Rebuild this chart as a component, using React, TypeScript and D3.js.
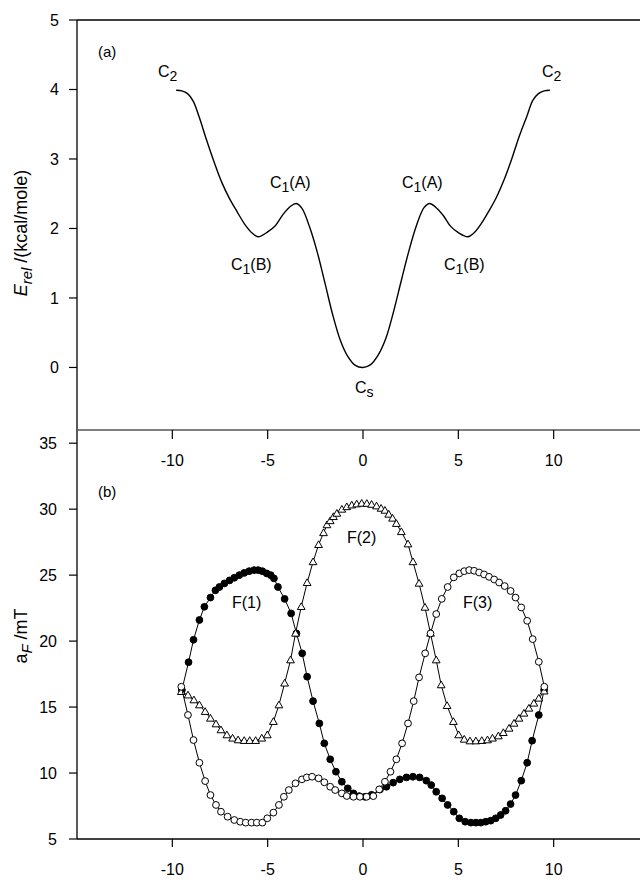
import * as d3 from "d3";

// (a) relative energy along the coordinate
const energyX = [-9.8, -9.5, -9.2, -8.9, -8.6, -8.2, -7.8, -7.4, -7.0, -6.6, -6.2, -5.8, -5.5, -5.0, -4.6, -4.2, -3.8, -3.5, -3.2, -2.8, -2.4, -2.0, -1.6, -1.2, -0.8, -0.4, 0, 0.4, 0.8, 1.2, 1.6, 2.0, 2.4, 2.8, 3.2, 3.5, 3.8, 4.2, 4.6, 5.0, 5.5, 5.8, 6.2, 6.6, 7.0, 7.4, 7.8, 8.2, 8.6, 8.9, 9.2, 9.5, 9.8];
const energyY = [3.99, 3.98, 3.94, 3.83, 3.61, 3.27, 2.95, 2.66, 2.43, 2.24, 2.06, 1.93, 1.88, 1.95, 2.04, 2.2, 2.32, 2.36, 2.29, 2.02, 1.66, 1.22, 0.77, 0.4, 0.16, 0.03, 0.0, 0.04, 0.18, 0.42, 0.8, 1.24, 1.67, 2.04, 2.3, 2.36, 2.31, 2.19, 2.03, 1.94, 1.88, 1.93, 2.07, 2.25, 2.45, 2.7, 3.0, 3.33, 3.62, 3.84, 3.94, 3.98, 3.99];

// (b) fluorine hyperfine couplings
const f1X = [-9.5, -9.15, -8.89, -8.58, -8.32, -8.0, -7.74, -7.53, -7.27, -7.0, -6.75, -6.49, -6.23, -5.97, -5.71, -5.5, -5.28, -5.05, -4.84, -4.67, -4.46, -4.11, -3.77, -3.49, -3.19, -2.93, -2.62, -2.29, -2.03, -1.72, -1.42, -1.11, -0.8, -0.5, -0.2, 0.1, 0.45, 0.89, 1.23, 1.58, 1.93, 2.28, 2.62, 2.97, 3.32, 3.58, 3.84, 4.15, 4.44, 4.76, 5.05, 5.36, 5.66, 5.92, 6.18, 6.44, 6.7, 6.96, 7.22, 7.48, 7.74, 8.0, 8.3, 8.61, 8.87, 9.22, 9.5];
const f1Y = [16.3, 18.4, 20.1, 21.6, 22.6, 23.3, 23.85, 24.1, 24.37, 24.6, 24.8, 25.0, 25.17, 25.3, 25.38, 25.38, 25.3, 25.13, 25.0, 24.75, 24.1, 23.2, 22.1, 20.58, 19.07, 17.3, 15.45, 13.76, 12.25, 11.04, 10.1, 9.34, 8.84, 8.46, 8.25, 8.2, 8.35, 8.75, 8.96, 9.27, 9.52, 9.67, 9.72, 9.67, 9.42, 9.09, 8.58, 8.08, 7.58, 7.07, 6.57, 6.31, 6.24, 6.24, 6.24, 6.31, 6.39, 6.57, 6.82, 7.14, 7.65, 8.33, 9.42, 10.78, 12.45, 14.4, 16.3];

const f2X = [-9.53, -9.18, -8.87, -8.58, -8.28, -8.0, -7.71, -7.45, -7.14, -6.84, -6.55, -6.23, -5.94, -5.63, -5.31, -5.02, -4.7, -4.41, -4.11, -3.8, -3.54, -3.24, -2.93, -2.62, -2.33, -2.07, -1.89, -1.72, -1.55, -1.37, -1.11, -0.85, -0.59, -0.33, -0.07, 0.2, 0.45, 0.71, 0.95, 1.15, 1.35, 1.55, 1.75, 2.01, 2.36, 2.62, 2.94, 3.25, 3.54, 3.84, 4.1, 4.41, 4.74, 5.02, 5.31, 5.61, 5.92, 6.23, 6.53, 6.79, 7.1, 7.36, 7.66, 7.92, 8.18, 8.44, 8.7, 8.96, 9.22, 9.5];
const f2Y = [16.16, 15.9, 15.53, 15.15, 14.65, 14.14, 13.71, 13.26, 12.88, 12.63, 12.5, 12.45, 12.45, 12.45, 12.63, 12.88, 13.89, 15.15, 16.8, 18.56, 20.58, 22.6, 24.42, 26.0, 27.3, 28.2, 28.8, 29.11, 29.42, 29.67, 29.98, 30.17, 30.3, 30.38, 30.43, 30.42, 30.35, 30.23, 30.05, 29.9, 29.6, 29.3, 28.9, 28.28, 27.35, 26.0, 24.37, 22.55, 20.58, 18.56, 16.67, 15.1, 13.89, 12.88, 12.55, 12.42, 12.42, 12.45, 12.5, 12.63, 12.8, 13.05, 13.38, 13.76, 14.14, 14.52, 14.9, 15.28, 15.66, 16.2];

const f3X = [-9.53, -9.18, -8.89, -8.58, -8.28, -8.0, -7.71, -7.45, -7.1, -6.75, -6.44, -6.15, -5.85, -5.57, -5.28, -5.02, -4.7, -4.41, -4.15, -3.89, -3.54, -3.2, -2.95, -2.67, -2.33, -2.03, -1.72, -1.46, -1.11, -0.85, -0.5, -0.16, 0.19, 0.54, 0.85, 1.15, 1.44, 1.75, 2.05, 2.36, 2.66, 2.94, 3.26, 3.54, 3.84, 4.13, 4.44, 4.76, 5.05, 5.31, 5.57, 5.83, 6.09, 6.35, 6.61, 6.88, 7.14, 7.43, 7.74, 8.0, 8.3, 8.61, 8.9, 9.22, 9.51];
const f3Y = [16.54, 14.4, 12.5, 10.78, 9.39, 8.33, 7.58, 7.07, 6.69, 6.44, 6.31, 6.24, 6.24, 6.24, 6.24, 6.57, 7.0, 7.58, 8.2, 8.71, 9.22, 9.52, 9.67, 9.72, 9.6, 9.3, 8.96, 8.71, 8.46, 8.26, 8.2, 8.2, 8.2, 8.25, 8.76, 9.34, 10.1, 11.04, 12.25, 13.76, 15.45, 17.25, 19.07, 20.58, 22.05, 23.2, 24.1, 24.83, 25.13, 25.3, 25.38, 25.33, 25.2, 25.05, 24.87, 24.67, 24.44, 24.17, 23.8, 23.3, 22.55, 21.54, 20.15, 18.43, 16.54];

const xTicks = [-10, -5, 0, 5, 10];
const energyTicks = [0, 1, 2, 3, 4, 5];
const hfTicks = [5, 10, 15, 20, 25, 30, 35];

const W = 640;
const H = 880;
const FONT = "Liberation Sans, Arial, Helvetica, sans-serif";

const x = d3.scaleLinear().domain([-15, 15]).range([77, 649]);
const yTop = d3.scaleLinear().domain([-0.9, 5]).range([430, 20]);
const yBot = d3.scaleLinear().domain([5, 36]).range([839, 430]);

const zip = (xs: number[], ys: number[]) => xs.map((v, i) => [v, ys[i]] as [number, number]);

const energyLine = d3
  .line<[number, number]>()
  .x((d) => x(d[0]))
  .y((d) => yTop(d[1]))
  .curve(d3.curveCatmullRom.alpha(0.5));

const hfLine = d3
  .line<[number, number]>()
  .x((d) => x(d[0]))
  .y((d) => yBot(d[1]));

const tri = d3.symbol().type(d3.symbolTriangle).size(26)();

function Series({ pts, kind }: { pts: [number, number][]; kind: string }) {
  return (
    <g>
      <path d={hfLine(pts) || ""} fill="none" stroke="#000" strokeWidth={1} />
      {pts.map((p, i) =>
        kind === "tri" ? (
          <path
            key={i}
            d={tri || ""}
            transform={`translate(${x(p[0])},${yBot(p[1]) + 0.5})`}
            fill="#fff"
            stroke="#000"
            strokeWidth={1}
          />
        ) : (
          <circle
            key={i}
            cx={x(p[0])}
            cy={yBot(p[1])}
            r={3.4}
            fill={kind === "filled" ? "#000" : "#fff"}
            stroke="#000"
            strokeWidth={1}
          />
        )
      )}
    </g>
  );
}

// state labels like C2, C1(A), Cs
function Lbl({ x0, y0, main, sub, rest }: { x0: number; y0: number; main: string; sub: string; rest?: string }) {
  return (
    <text x={x0} y={y0} fontSize={16}>
      {main}
      <tspan dy={4} fontSize={14}>{sub}</tspan>
      {rest ? <tspan dy={-4} fontSize={16}>{rest}</tspan> : null}
    </text>
  );
}

export default function App() {
  const left = 77;
  return (
    <div style={{ position: "absolute", left: 0, top: 0 }}>
      <svg width={W} height={H} style={{ display: "block", background: "#fff" }} fontFamily={FONT}>
        {/* panel (a) */}
        <line x1={left} x2={W} y1={20} y2={20} stroke="#000" strokeWidth={1.3} />
        <line x1={left} x2={left} y1={20} y2={839} stroke="#000" strokeWidth={1.3} />
        {energyTicks.map((t) => (
          <g key={t}>
            <line x1={left - 8} x2={left} y1={yTop(t)} y2={yTop(t)} stroke="#000" strokeWidth={1.2} />
            <text x={left - 18} y={yTop(t)} dy="0.36em" textAnchor="end" fontSize={16}>{t}</text>
          </g>
        ))}
        <line x1={left} x2={W} y1={430} y2={430} stroke="#555" strokeWidth={1.5} />
        {xTicks.map((t) => (
          <g key={t}>
            <line x1={x(t)} x2={x(t)} y1={430} y2={439} stroke="#000" strokeWidth={1.2} />
            <text x={x(t)} y={466} textAnchor="middle" fontSize={16}>{t}</text>
          </g>
        ))}
        <path d={energyLine(zip(energyX, energyY)) || ""} fill="none" stroke="#000" strokeWidth={1.4} />
        <text x={98} y={57} fontSize={15}>(a)</text>
        <Lbl x0={158} y0={77} main="C" sub="2" />
        <Lbl x0={270} y0={188} main="C" sub="1" rest="(A)" />
        <Lbl x0={231} y0={270} main="C" sub="1" rest="(B)" />
        <Lbl x0={402} y0={188} main="C" sub="1" rest="(A)" />
        <Lbl x0={444} y0={270} main="C" sub="1" rest="(B)" />
        <Lbl x0={542} y0={77} main="C" sub="2" />
        <Lbl x0={355} y0={393} main="C" sub="s" />
        <text transform="translate(27,233) rotate(-90)" textAnchor="middle" fontSize={18}>
          <tspan fontStyle="italic">E</tspan>
          <tspan fontStyle="italic" fontSize={15} dy={5}>rel</tspan>
          <tspan dy={-5}> /(kcal/mole)</tspan>
        </text>

        {/* panel (b) */}
        {hfTicks.map((t) => (
          <g key={t}>
            <line x1={left - 8} x2={left} y1={yBot(t)} y2={yBot(t)} stroke="#000" strokeWidth={1.2} />
            <text x={left - 20} y={yBot(t)} dy="0.36em" textAnchor="end" fontSize={16}>{t}</text>
          </g>
        ))}
        <line x1={left} x2={W} y1={839} y2={839} stroke="#000" strokeWidth={1.3} />
        {xTicks.map((t) => (
          <g key={t}>
            <line x1={x(t)} x2={x(t)} y1={839} y2={847} stroke="#000" strokeWidth={1.2} />
            <text x={x(t)} y={875} textAnchor="middle" fontSize={16}>{t}</text>
          </g>
        ))}
        <Series pts={zip(f1X, f1Y)} kind="filled" />
        <Series pts={zip(f2X, f2Y)} kind="tri" />
        <Series pts={zip(f3X, f3Y)} kind="open" />
        <text x={98} y={497} fontSize={15}>(b)</text>
        <text x={232} y={608} fontSize={16}>F(1)</text>
        <text x={347} y={543} fontSize={16}>F(2)</text>
        <text x={463} y={608} fontSize={16}>F(3)</text>
        <text transform="translate(27,636) rotate(-90)" textAnchor="middle" fontSize={18}>
          <tspan>a</tspan>
          <tspan fontStyle="italic" fontSize={15} dy={5}>F</tspan>
          <tspan dy={-5}> /mT</tspan>
        </text>
      </svg>
    </div>
  );
}
